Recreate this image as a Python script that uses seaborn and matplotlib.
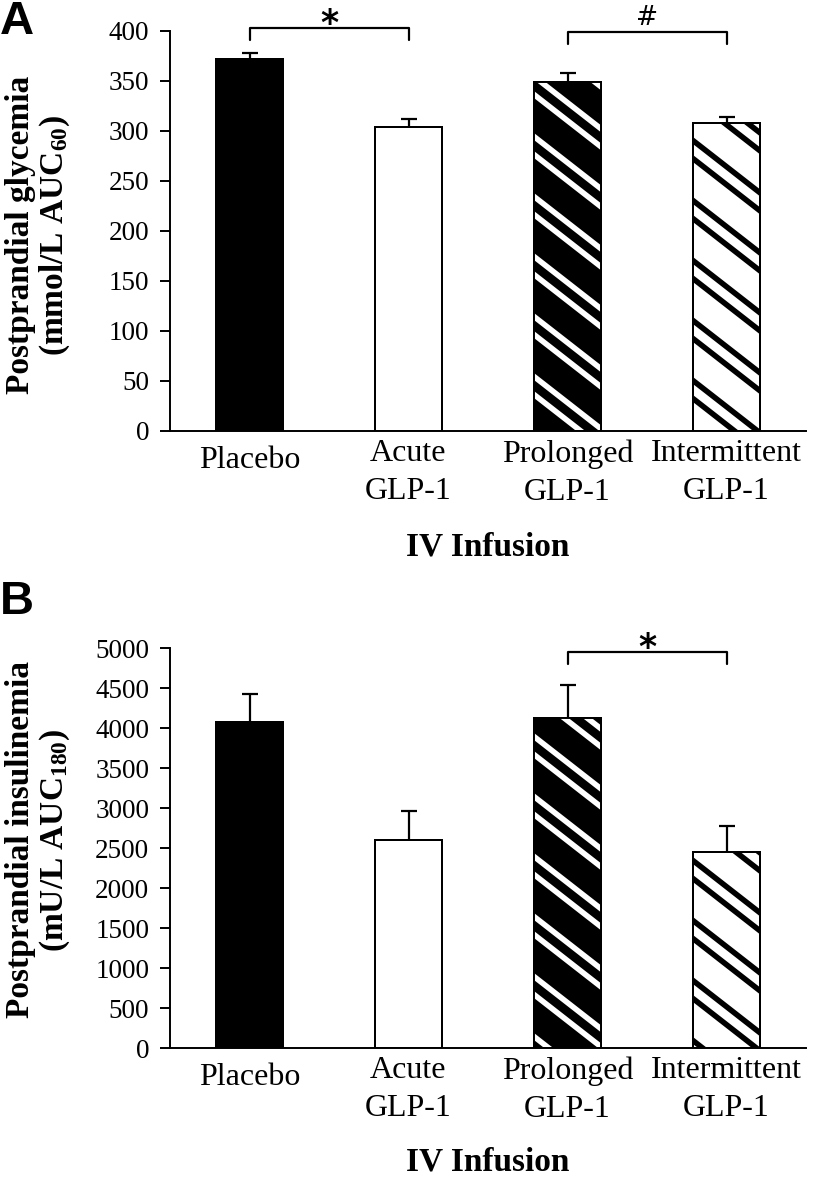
import numpy as np
import pandas as pd
import matplotlib
matplotlib.use("Agg")
import matplotlib.pyplot as plt
import seaborn as sns
from matplotlib.lines import Line2D
from matplotlib.transforms import IdentityTransform, ScaledTranslation

# values (mean + SE, only the upper whisker is drawn)
categories = ["Placebo", "Acute\nGLP-1", "Prolonged\nGLP-1", "Intermittent\nGLP-1"]
glycemia = [372, 304, 349, 308]
glycemia_se = [6, 8, 9, 6]
insulinemia = [4070, 2600, 4130, 2450]
insulinemia_se = [357, 365, 410, 325]

# significance brackets: (from bar, to bar, symbol, bracket height)
brackets_a = [(0, 1, "*", 403), (2, 3, "#", 399)]
brackets_b = [(2, 3, "*", 4946)]

face_colors = ["black", "white", "black", "white"]
stripe_colors = [None, None, "white", "black"]

sns.set_theme(style="ticks")
plt.rcParams['font.family'] = ['Liberation Serif', 'DejaVu Serif']
plt.rcParams['mathtext.default'] = 'regular'
for k in ['text.color', 'axes.labelcolor', 'xtick.color', 'ytick.color', 'axes.edgecolor']:
    plt.rcParams[k] = 'black'

W, H = 815, 1178
fig = plt.figure(figsize=(W / 100, H / 100), dpi=100)
fig.patch.set_facecolor("white")
ax_a = fig.add_axes([170 / W, 1 - 431 / H, 636 / W, 400 / H])
ax_b = fig.add_axes([170 / W, 1 - 1048 / H, 636 / W, 400 / H])


def draw_panel(ax, values, errors, ymax, ystep, ylabel, label_y, brackets, px_per_unit):
    df = pd.DataFrame({"group": categories, "value": values})
    sns.barplot(data=df, x="group", y="value", hue="group", order=categories,
                palette=dict(zip(categories, face_colors)), saturation=1,
                width=0.42, edgecolor="black", linewidth=1.4, errorbar=None,
                legend=False, ax=ax)
    ax.set_xlim(-0.5, 3.5)
    ax.set_ylim(0, ymax)
    ax.set_yticks(np.arange(0, ymax + 1, ystep))
    sns.despine(ax=ax)
    for s in ["left", "bottom"]:
        ax.spines[s].set_linewidth(1.4)
    ax.tick_params(axis="y", direction="out", length=7, width=1.4, pad=8, labelsize=19.5)
    ax.tick_params(axis="x", length=0, pad=6, labelsize=23)
    for lbl in ax.get_xticklabels():
        lbl.set_linespacing(1.4)
    # single-line label sits a bit lower, like the original
    first = ax.get_xticklabels()[0]
    first.set_transform(first.get_transform() + ScaledTranslation(0, -0.07, fig.dpi_scale_trans))

    # upper error bars only
    eb = ax.errorbar(range(len(values)), values, yerr=[np.zeros(len(values)), errors],
                     fmt="none", ecolor="black", elinewidth=1.6, capsize=6, capthick=1.6, zorder=3)
    eb[1][0].set_visible(False)

    # paired diagonal stripes, clipped to the bars
    bars = list(ax.patches)
    for p in bars:
        i = int(round(p.get_x() + p.get_width() / 2))
        if stripe_colors[i] is None:
            continue
        for b in np.arange(-60, 1950, 60):
            for off in (0, 18):
                ln = Line2D([0, W], [b + off, b + off - 0.78 * W], transform=IdentityTransform(),
                            color=stripe_colors[i], lw=4.0, solid_capstyle="butt", zorder=2)
                ax.add_line(ln)
                ln.set_clip_path(p)
    ax.bar(range(len(values)), values, width=0.42, fill=False, edgecolor="black",
           linewidth=1.4, zorder=2.5)

    # brackets
    drop = 12 / px_per_unit
    for i0, i1, sym, h in brackets:
        ax.plot([i0, i0, i1, i1], [h - drop, h, h, h - drop], color="black", lw=1.6,
                clip_on=False, zorder=4)
        if sym == "*":
            ax.text((i0 + i1) / 2, h - 6 / px_per_unit, sym, ha="center", va="baseline",
                    fontsize=25, fontweight="bold", family="DejaVu Sans", clip_on=False)
        else:
            ax.text((i0 + i1) / 2, h + 1 / px_per_unit, sym, ha="center", va="bottom",
                    fontsize=19, family="DejaVu Sans", clip_on=False)

    ax.set_xlabel("IV Infusion", fontsize=24, fontweight="bold", va="center")
    ax.xaxis.set_label_coords(0.5, label_y)
    ax.set_ylabel(ylabel, fontsize=24, fontweight="bold", va="center", linespacing=1.05)


draw_panel(ax_a, glycemia, glycemia_se, 400, 50,
           "Postprandial glycemia\n(mmol/L AUC$_{60}$)", -0.29, brackets_a, 1.0)
ax_a.yaxis.set_label_coords(-0.207, 0.49)

draw_panel(ax_b, insulinemia, insulinemia_se, 5000, 500,
           "Postprandial insulinemia\n(mU/L AUC$_{180}$)", -0.285, brackets_b, 0.08)
ax_b.yaxis.set_label_coords(-0.207, 0.52)

fig.text(0 / W, 1 - 0 / H, "A", fontsize=34, fontweight="bold", family="Liberation Sans",
         ha="left", va="top")
fig.text(0 / W, 1 - 580 / H, "B", fontsize=34, fontweight="bold", family="Liberation Sans",
         ha="left", va="top")

fig.savefig("out.png", dpi=100)
